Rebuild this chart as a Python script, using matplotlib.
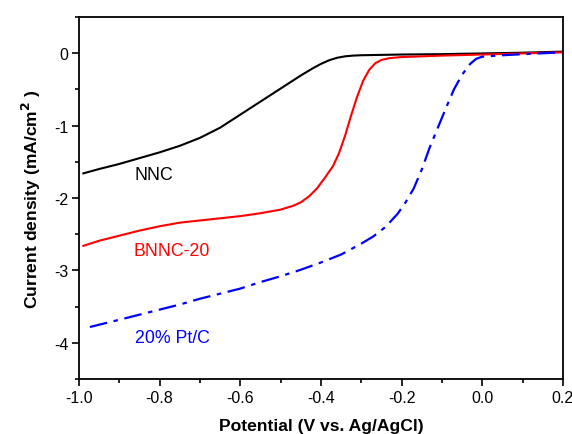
import numpy as np
import matplotlib
matplotlib.use('Agg')
from matplotlib import pyplot as plt

plt.rcParams['font.family'] = ['Liberation Sans', 'DejaVu Sans']

# NNC
nnc_x = [-0.989, -0.95, -0.90, -0.85, -0.80, -0.75, -0.70, -0.65, -0.60, -0.55,
         -0.50, -0.45, -0.42, -0.40, -0.38, -0.36, -0.34, -0.32, -0.30,
         -0.20, -0.10, 0.0, 0.10, 0.20]
nnc_y = [-1.66, -1.60, -1.53, -1.45, -1.37, -1.28, -1.17, -1.03, -0.85, -0.67,
         -0.49, -0.31, -0.21, -0.15, -0.10, -0.065, -0.045, -0.035, -0.03,
         -0.02, -0.015, -0.005, 0.005, 0.02]

# BNNC-20
bnnc_x = [-0.989, -0.95, -0.90, -0.85, -0.80, -0.75, -0.70, -0.65, -0.60, -0.55,
          -0.50, -0.47, -0.45, -0.43, -0.41, -0.39, -0.37, -0.355, -0.34,
          -0.325, -0.31, -0.295, -0.28, -0.265, -0.25, -0.23, -0.20, -0.15,
          -0.10, 0.0, 0.10, 0.20]
bnnc_y = [-2.66, -2.59, -2.52, -2.45, -2.39, -2.34, -2.31, -2.28, -2.25, -2.21,
          -2.16, -2.11, -2.06, -1.98, -1.87, -1.72, -1.56, -1.38, -1.14,
          -0.86, -0.60, -0.38, -0.23, -0.14, -0.095, -0.07, -0.055, -0.045,
          -0.035, -0.02, -0.005, 0.01]

# 20% Pt/C
pt_x = [-0.973, -0.90, -0.85, -0.80, -0.75, -0.70, -0.65, -0.60, -0.55, -0.50,
        -0.45, -0.40, -0.35, -0.30, -0.27, -0.24, -0.21, -0.19, -0.17, -0.15,
        -0.13, -0.11, -0.09, -0.07, -0.05, -0.03, -0.015, 0.0, 0.05, 0.12, 0.20]
pt_y = [-3.78, -3.68, -3.61, -3.54, -3.47, -3.39, -3.32, -3.25, -3.16, -3.08,
        -2.99, -2.89, -2.78, -2.63, -2.53, -2.40, -2.22, -2.06, -1.87, -1.61,
        -1.30, -1.03, -0.76, -0.50, -0.30, -0.15, -0.08, -0.05, -0.03, -0.01, 0.01]

labels = ['NNC', 'BNNC-20', '20% Pt/C']
label_pos = [(-0.862, -1.67), (-0.864, -2.73), (-0.862, -3.92)]
colors = ['black', 'red', 'blue']

fig = plt.figure(figsize=(5.72, 4.35), dpi=100)
ax = fig.add_axes([0.138, 0.126, 0.846, 0.833])

ax.plot(nnc_x, nnc_y, color='black', lw=1.5)
ax.plot(bnnc_x, bnnc_y, color='red', lw=1.5)
ax.plot(pt_x, pt_y, color='blue', lw=1.6, linestyle=(0, (8, 3, 2, 3)))

for lab, (tx, ty), c in zip(labels, label_pos, colors):
    ax.text(tx, ty, lab, color=c, fontsize=12.8, va='center', ha='left')

ax.set_xlim(-1.0, 0.2)
ax.set_ylim(-4.5, 0.5)
ax.set_xticks([-1.0, -0.8, -0.6, -0.4, -0.2, 0.0, 0.2])
ax.set_xticklabels(['-1.0', '-0.8', '-0.6', '-0.4', '-0.2', '0.0', '0.2'])
ax.set_yticks([0, -1, -2, -3, -4])
ax.set_yticklabels(['0', '-1', '-2', '-3', '-4'])
ax.set_xticks(np.arange(-0.9, 0.2, 0.2), minor=True)
ax.set_yticks(np.arange(-4.5, 0.6, 1.0), minor=True)
ax.tick_params(which='major', direction='out', length=5, width=1.2, labelsize=11.5, pad=2.5)
ax.tick_params(which='minor', direction='out', length=3, width=1.2)
for s in ax.spines.values():
    s.set_linewidth(1.3)

ax.set_xlabel('Potential (V vs. Ag/AgCl)', fontsize=12.6, fontweight='bold', labelpad=10)
ax.set_ylabel('Current density (mA/cm$^\\mathbf{2}$ )', fontsize=12.6, fontweight='bold', labelpad=8)

plt.savefig('out.png', dpi=100)
plt.close()
